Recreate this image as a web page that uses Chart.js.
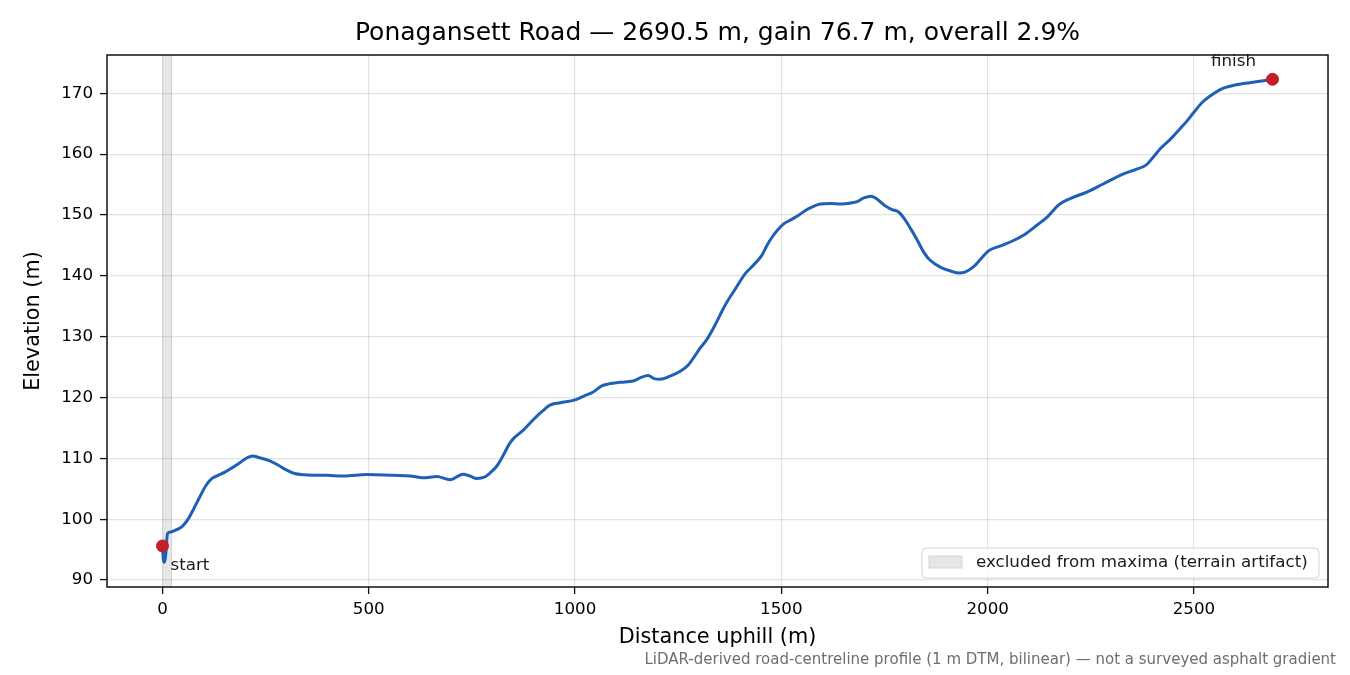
<!DOCTYPE html>
<html>
<head>
<meta charset="utf-8">
<script src="https://cdn.jsdelivr.net/npm/chart.js@4"></script>
<style>
  html, body { margin: 0; padding: 0; background: #fff; }
  canvas { display: block; }
</style>
</head>
<body>
<canvas id="profile" width="1350" height="675"></canvas>
<script>
// profile samples (distance uphill m, elevation m)
const distance = [
  0, 2, 5, 8, 12, 20, 32, 48, 62, 75, 90, 105, 120, 135, 150, 170, 190, 205, 218, 235,
  260, 280, 300, 320, 345, 400, 440, 495, 560, 600, 631, 665, 697, 728, 745, 762, 780, 794, 810, 826,
  840, 850, 874, 898, 920, 939, 964, 1000, 1020, 1044, 1065, 1080, 1110, 1141, 1160, 1177, 1192, 1206, 1230, 1255,
  1275, 1290, 1303, 1320, 1340, 1364, 1388, 1413, 1433, 1453, 1465, 1477, 1492, 1505, 1520, 1538, 1565, 1595, 1620, 1643,
  1670, 1684, 1700, 1718, 1730, 1752, 1768, 1784, 1798, 1813, 1830, 1845, 1860, 1886, 1910, 1930, 1945, 1966, 1985, 2002,
  2030, 2064, 2090, 2121, 2145, 2173, 2200, 2242, 2280, 2315, 2331, 2360, 2384, 2400, 2420, 2445, 2468, 2485, 2500, 2520,
  2549, 2570, 2590, 2620, 2660, 2690.5
];
const elevation = [
  95.6, 93.4, 92.9, 94.3, 97.6, 97.9, 98.2, 98.8, 100.0, 101.6, 103.6, 105.5, 106.7, 107.2, 107.7, 108.5, 109.4, 110.1, 110.4, 110.1,
  109.6, 108.9, 108.1, 107.5, 107.3, 107.2, 107.1, 107.35, 107.2, 107.1, 106.8, 107.0, 106.5, 107.4, 107.1, 106.7, 106.9, 107.6, 108.7, 110.5,
  112.3, 113.2, 114.6, 116.3, 117.7, 118.75, 119.15, 119.6, 120.2, 120.9, 121.9, 122.2, 122.5, 122.7, 123.3, 123.6, 123.1, 123.0, 123.5, 124.3,
  125.4, 126.8, 128.1, 129.6, 132.0, 135.2, 137.8, 140.4, 141.8, 143.4, 145.0, 146.3, 147.6, 148.5, 149.1, 149.8, 151.0, 151.8, 151.9, 151.8,
  152.0, 152.2, 152.8, 153.1, 152.7, 151.5, 150.9, 150.5, 149.4, 147.8, 145.8, 143.9, 142.6, 141.4, 140.8, 140.45, 140.6, 141.5, 142.9, 144.1,
  144.9, 145.85, 146.8, 148.4, 149.7, 151.7, 152.7, 153.8, 155.1, 156.3, 156.8, 157.5, 158.2, 159.4, 161.0, 162.6, 164.3, 165.6, 166.9, 168.5,
  170.0, 170.8, 171.2, 171.6, 172.0, 172.3
];

const markerDist = [0, 2690.5];
const markerElev = [95.6, 172.3];
const markerLabels = ['start', 'finish'];

const bandRange = [0, 22];   // excluded stretch at the bottom
const bandLabel = 'excluded from maxima (terrain artifact)';

const xTicks = [0, 500, 1000, 1500, 2000, 2500];
const yTicks = [90, 100, 110, 120, 130, 140, 150, 160, 170];
const xLimits = [-134.5, 2825];
const yLimits = [88.85, 176.3];

const titleText = 'Ponagansett Road \u2014 2690.5 m, gain 76.7 m, overall 2.9%';
const footnote = 'LiDAR-derived road-centreline profile (1 m DTM, bilinear) \u2014 not a surveyed asphalt gradient';

const FONT = "'DejaVu Sans', 'Liberation Sans', sans-serif";
const lineColor = '#1f5fb5';
const markerColor = '#c41e2a';

const profilePoints = distance.map((d, i) => ({ x: d, y: elevation[i] }));
const markerPoints = markerDist.map((d, i) => ({ x: d, y: markerElev[i] }));
const bandPoints = [
  { x: bandRange[0], y: yLimits[0] }, { x: bandRange[0], y: yLimits[1] },
  { x: bandRange[1], y: yLimits[1] }, { x: bandRange[1], y: yLimits[0] }
];

// frame, annotations, legend and footnote
const extras = {
  id: 'extras',
  afterDraw(chart) {
    const { ctx, chartArea: a, scales } = chart;
    ctx.save();
    ctx.strokeStyle = '#111';
    ctx.lineWidth = 1.5;
    ctx.strokeRect(a.left, a.top, a.right - a.left, a.bottom - a.top);

    ctx.font = '16.7px ' + FONT;
    ctx.fillStyle = '#1a1a1a';
    ctx.textBaseline = 'middle';
    const sx = scales.x.getPixelForValue(markerDist[0]);
    const sy = scales.y.getPixelForValue(markerElev[0]);
    ctx.textAlign = 'left';
    ctx.fillText(markerLabels[0], sx + 8, sy + 20);
    const fx = scales.x.getPixelForValue(markerDist[1]);
    const fy = scales.y.getPixelForValue(markerElev[1]);
    ctx.textAlign = 'center';
    ctx.fillText(markerLabels[1], fx - 39, fy - 18);

    // legend, lower right inside the axes
    const lw = 397, lh = 30;
    const lx = a.right - 9 - lw, ly = a.bottom - 9 - lh;
    ctx.beginPath();
    ctx.roundRect(lx, ly, lw, lh, 4);
    ctx.fillStyle = 'rgba(255,255,255,0.85)';
    ctx.fill();
    ctx.strokeStyle = '#d2d2d2';
    ctx.lineWidth = 1;
    ctx.stroke();
    ctx.fillStyle = '#e6e6e6';
    ctx.fillRect(lx + 7, ly + 8, 33, 12);
    ctx.strokeStyle = '#d6d6d6';
    ctx.strokeRect(lx + 7, ly + 8, 33, 12);
    ctx.fillStyle = '#1a1a1a';
    ctx.textAlign = 'left';
    ctx.fillText(bandLabel, lx + 54, ly + lh / 2);

    ctx.font = '15px ' + FONT;
    ctx.fillStyle = '#6e6e6e';
    ctx.textAlign = 'right';
    ctx.fillText(footnote, 1336, 660);
    ctx.restore();
  }
};

const plainTick = v => String(v);

new Chart(document.getElementById('profile'), {
  type: 'line',
  data: {
    datasets: [
      {
        type: 'scatter',
        label: 'ends',
        data: markerPoints,
        backgroundColor: markerColor,
        borderColor: markerColor,
        pointRadius: 6,
        pointHoverRadius: 6
      },
      {
        label: 'elevation',
        data: profilePoints,
        borderColor: lineColor,
        borderWidth: 3,
        pointRadius: 0,
        cubicInterpolationMode: 'monotone',
        fill: false
      },
      {
        label: bandLabel,
        data: bandPoints,
        borderColor: 'rgba(128,128,128,0.12)',
        borderWidth: 1,
        backgroundColor: 'rgba(128,128,128,0.2)',
        pointRadius: 0,
        tension: 0,
        fill: 'start'
      }
    ]
  },
  options: {
    responsive: false,
    animation: false,
    devicePixelRatio: 1,
    layout: { padding: { left: 0, right: 22, top: 0, bottom: 0 } },
    plugins: {
      legend: { display: false },
      tooltip: { enabled: false },
      title: {
        display: true,
        text: titleText,
        fullSize: false,
        color: '#000',
        font: { family: FONT, size: 25, weight: 'normal' },
        padding: { top: 18, bottom: 7 }
      }
    },
    scales: {
      x: {
        type: 'linear',
        min: xLimits[0],
        max: xLimits[1],
        afterBuildTicks: s => { s.ticks = xTicks.map(v => ({ value: v })); },
        afterFit: s => { s.height = 88; },
        ticks: {
          color: '#000',
          font: { family: FONT, size: 16.7 },
          padding: 6,
          maxRotation: 0,
          callback: plainTick
        },
        grid: { color: 'rgba(0,0,0,0.11)', lineWidth: 1.2, tickLength: 7, tickColor: '#111', tickWidth: 1.3 },
        border: { display: false },
        title: {
          display: true,
          text: 'Distance uphill (m)',
          color: '#000',
          font: { family: FONT, size: 20.8 },
          padding: { top: 0, bottom: 24.5 }
        }
      },
      y: {
        type: 'linear',
        min: yLimits[0],
        max: yLimits[1],
        afterBuildTicks: s => { s.ticks = yTicks.map(v => ({ value: v })); },
        afterFit: s => { s.width = 107; },
        ticks: {
          color: '#000',
          font: { family: FONT, size: 16.7 },
          padding: 7,
          callback: plainTick
        },
        grid: { color: 'rgba(0,0,0,0.11)', lineWidth: 1.2, tickLength: 7, tickColor: '#111', tickWidth: 1.3 },
        border: { display: false },
        title: {
          display: true,
          text: 'Elevation (m)',
          color: '#000',
          font: { family: FONT, size: 20.8 },
          padding: { top: 21.5, bottom: 0 }
        }
      }
    }
  },
  plugins: [extras]
});
</script>
</body>
</html>
